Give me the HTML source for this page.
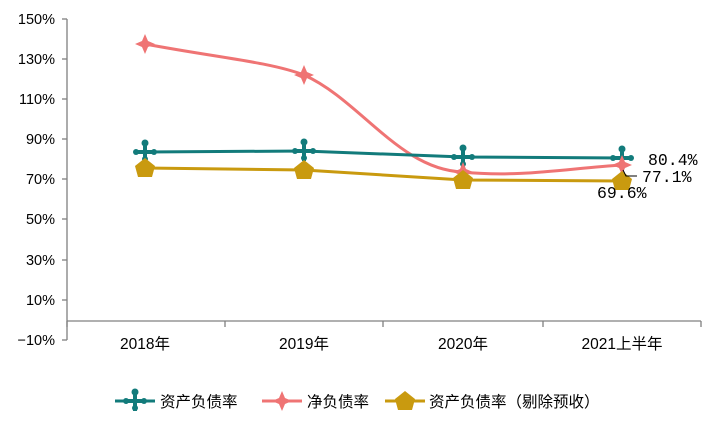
<!DOCTYPE html><html><head><meta charset="utf-8"><style>body{margin:0;background:#fff}</style></head><body>
<svg width="722" height="427" xmlns="http://www.w3.org/2000/svg" font-family="'Liberation Sans','Noto Sans CJK SC',sans-serif">
<g stroke="#808080" stroke-width="1.3" fill="none">
<line x1="67" y1="19" x2="67" y2="340"/>
<line x1="67" y1="321" x2="701" y2="321"/>
<g>
<line x1="62" y1="19" x2="67" y2="19"/><line x1="62" y1="59" x2="67" y2="59"/><line x1="62" y1="99" x2="67" y2="99"/><line x1="62" y1="139" x2="67" y2="139"/><line x1="62" y1="179" x2="67" y2="179"/><line x1="62" y1="219" x2="67" y2="219"/><line x1="62" y1="260" x2="67" y2="260"/><line x1="62" y1="300" x2="67" y2="300"/><line x1="62" y1="340" x2="67" y2="340"/>
<line x1="67" y1="321" x2="67" y2="327"/><line x1="225" y1="321" x2="225" y2="327"/><line x1="383" y1="321" x2="383" y2="327"/><line x1="543" y1="321" x2="543" y2="327"/><line x1="701" y1="321" x2="701" y2="327"/>
</g></g>
<g font-size="14.5" fill="#000" text-anchor="end">
<text x="55" y="24">150%</text><text x="55" y="64">130%</text><text x="55" y="104">110%</text><text x="55" y="144">90%</text><text x="55" y="184">70%</text><text x="55" y="224">50%</text><text x="55" y="265">30%</text><text x="55" y="305">10%</text><text x="55" y="345">−10%</text>
</g>
<g font-size="15.5" fill="#000" text-anchor="middle">
<text x="145" y="349">2018年</text><text x="304" y="349">2019年</text><text x="463" y="349">2020年</text><text x="622" y="349">2021上半年</text>
</g>
<path d="M145,44 C220,58 270,62 304,75 C360,100 400,170 463,172 C520,178 570,168 622,165" stroke="#ef7474" stroke-width="3" fill="none"/>
<polyline points="145,152 304,151 463,157 622,158" stroke="#127b7b" stroke-width="3" fill="none"/>
<polyline points="145,168 304,170 463,180 622,181" stroke="#c99a0f" stroke-width="3" fill="none"/>
<defs>
<g id="t"><line x1="-10" y1="0" x2="10" y2="0" stroke="#127b7b" stroke-width="4"/><line x1="0" y1="-10" x2="0" y2="10" stroke="#127b7b" stroke-width="4"/><circle cx="0" cy="-9" r="3.5" fill="#127b7b"/><circle cx="-9" cy="0" r="3" fill="#127b7b"/><circle cx="9" cy="0" r="3" fill="#127b7b"/><circle cx="0" cy="7" r="3" fill="#127b7b"/></g>
<path id="s" d="M0,-10 L3,-3 L10,0 L3,3 L0,10 L-3,3 L-10,0 L-3,-3Z" fill="#ef7474"/>
<path id="p" d="M0,-10 L10,-2 L7,9 L-7,9 L-10,-2Z" fill="#c99a0f"/>
</defs>
<use href="#t" x="145" y="152"/><use href="#t" x="304" y="151"/><use href="#t" x="463" y="157"/><use href="#t" x="622" y="158"/>
<use href="#s" x="145" y="44"/><use href="#s" x="304" y="75"/><use href="#s" x="463" y="172"/><use href="#s" x="622" y="165"/>
<use href="#p" x="145" y="168"/><use href="#p" x="304" y="170"/><use href="#p" x="463" y="180"/><use href="#p" x="622" y="181"/>
<polyline points="623,170 626,176 637,176" stroke="#000" fill="none"/>
<g font-size="16.5" fill="#000" font-family="'Liberation Mono','Noto Sans CJK SC',monospace">
<text x="648" y="165">80.4%</text><text x="642" y="182">77.1%</text><text x="597" y="198">69.6%</text>
</g>
<g font-size="15.5" fill="#000">
<line x1="115" y1="401" x2="155" y2="401" stroke="#127b7b" stroke-width="3"/><use href="#t" x="135" y="401"/>
<text x="160" y="407">资产负债率</text>
<line x1="262" y1="401" x2="302" y2="401" stroke="#ef7474" stroke-width="3"/><use href="#s" x="282" y="401"/>
<text x="307" y="407">净负债率</text>
<line x1="385" y1="401" x2="425" y2="401" stroke="#c99a0f" stroke-width="3"/><use href="#p" x="405" y="401"/>
<text x="429" y="407">资产负债率（剔除预收）</text>
</g>
</svg></body></html>
